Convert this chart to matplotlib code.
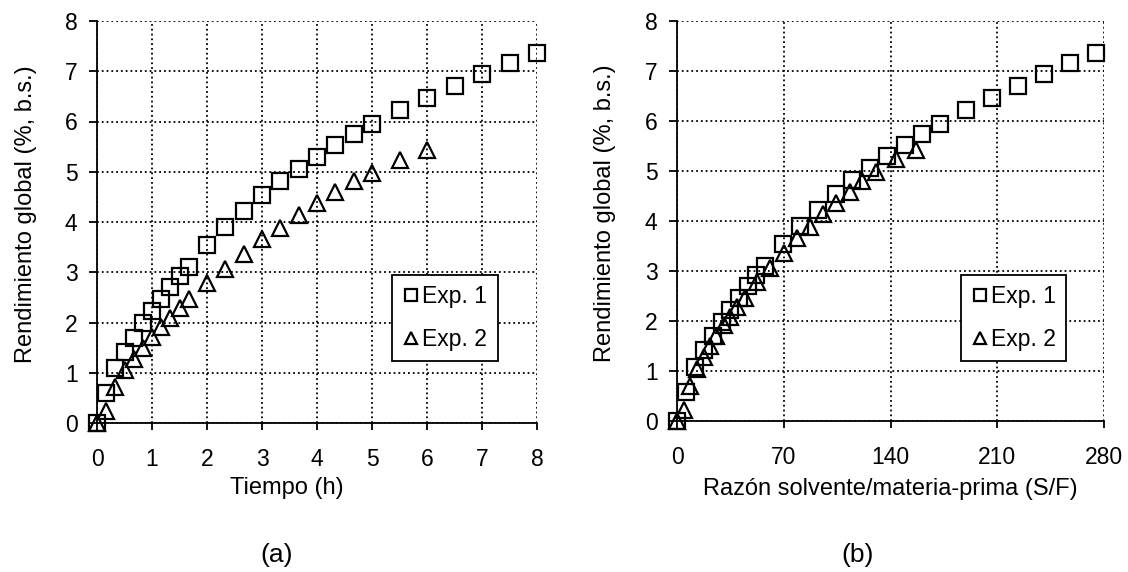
import matplotlib
matplotlib.use("Agg")
import matplotlib.pyplot as plt

plt.rcParams['font.family'] = ['Liberation Sans', 'DejaVu Sans']

# ---- data ----
t1 = [0, 0.17, 0.33, 0.5, 0.67, 0.83, 1.0, 1.17, 1.33, 1.5, 1.67, 2.0, 2.33, 2.67,
      3.0, 3.33, 3.67, 4.0, 4.33, 4.67, 5.0, 5.5, 6.0, 6.5, 7.0, 7.5, 8.0]
y1 = [0, 0.59, 1.09, 1.42, 1.70, 1.99, 2.22, 2.47, 2.70, 2.92, 3.11, 3.54, 3.91, 4.22,
      4.54, 4.82, 5.06, 5.30, 5.53, 5.75, 5.95, 6.22, 6.47, 6.71, 6.94, 7.16, 7.36]
sf1 = [0, 5.7, 11.8, 17.7, 23.6, 29.5, 35.0, 40.7, 46.6, 52.0, 58.0, 69.5, 80.9, 92.2,
       104.0, 115.0, 126.3, 137.7, 149.3, 160.9, 172.2, 189.3, 206.3, 223.4, 240.4, 257.5, 275.0]

t2 = [0, 0.17, 0.33, 0.5, 0.67, 0.83, 1.0, 1.17, 1.33, 1.5, 1.67, 2.0, 2.33, 2.67,
      3.0, 3.33, 3.67, 4.0, 4.33, 4.67, 5.0, 5.5, 6.0]
y2 = [0, 0.23, 0.71, 1.05, 1.28, 1.50, 1.71, 1.92, 2.09, 2.29, 2.47, 2.78, 3.06, 3.36,
      3.66, 3.89, 4.14, 4.37, 4.59, 4.81, 4.98, 5.24, 5.43]
sf2 = [0, 4.4, 8.7, 13.1, 17.5, 21.9, 25.8, 30.6, 35.0, 39.3, 44.4, 52.5, 61.2, 70.0,
       78.7, 87.4, 95.7, 104.0, 113.2, 121.5, 130.3, 143.4, 156.6]

labels = ["Exp. 1", "Exp. 2"]
ylabel = "Rendimiento global (%, b.s.)"
xlabel_a = "Tiempo (h)"
xlabel_b = "Razón solvente/materia-prima (S/F)"
xticks_a = [0, 1, 2, 3, 4, 5, 6, 7, 8]
xticks_b = [0, 70, 140, 210, 280]
yticks = [0, 1, 2, 3, 4, 5, 6, 7, 8]

FS_TICK = 16.5
FS_LAB = 17
FS_LEG = 16.5

fig = plt.figure(figsize=(11.28, 5.72), dpi=100)
ax1 = fig.add_axes([97/1128, 1-423/572, 440/1128, 402/572])
ax2 = fig.add_axes([677/1128, 1-421/572, 427/1128, 400/572])

mk = dict(linestyle='none', markerfacecolor='none', markeredgecolor='black',
          markersize=11, markeredgewidth=1.6, clip_on=False, zorder=5)


def style(ax, xt, xmax):
    ax.set_xlim(0, xmax)
    ax.set_ylim(0, 8)
    ax.set_xticks(xt)
    ax.set_yticks(yticks)
    for s in ['top', 'right']:
        ax.spines[s].set_visible(False)
    for s in ['left', 'bottom']:
        ax.spines[s].set_linewidth(1.3)
    ax.grid(True, linestyle=':', color='black', linewidth=1.3)
    ax.set_axisbelow(True)
    ax.tick_params(axis='x', direction='out', length=5, width=1.3, pad=13, labelsize=FS_TICK)
    ax.tick_params(axis='y', direction='out', length=6, width=1.3, pad=8, labelsize=FS_TICK)


for ax, xa, xb, xt, xmax, xl in [(ax1, t1, t2, xticks_a, 8, xlabel_a),
                                 (ax2, sf1, sf2, xticks_b, 280, xlabel_b)]:
    style(ax, xt, xmax)
    ax.plot(xa, y1, marker='s', label=labels[0], **mk)
    ax.plot(xb, y2, marker='^', label=labels[1], **mk)
    ax.set_ylabel(ylabel, fontsize=FS_LAB)
    ax.set_xlabel(xl, fontsize=FS_LAB)

ax1.yaxis.set_label_coords(-0.136, 0.52)
ax2.yaxis.set_label_coords(-0.143, 0.52)
ax1.xaxis.set_label_coords(0.432, -0.134)
ax2.xaxis.set_label_coords(0.5, -0.1425)

for ax, bb in [(ax1, (0.673, 0.149, 0.236, 0.224)), (ax2, (0.667, 0.145, 0.244, 0.225))]:
    leg = ax.legend(loc='center', bbox_to_anchor=bb, fontsize=FS_LEG, frameon=True,
                    fancybox=False, edgecolor='black', framealpha=1,
                    handlelength=0.7, handletextpad=0.15, markerscale=0.75,
                    borderpad=0.45, labelspacing=0.85, borderaxespad=0)
    leg.get_frame().set_linewidth(1.3)
    leg.set_zorder(10)

fig.text(277/1128, 1-555/572, "(a)", fontsize=19, ha='center', va='center')
fig.text(858/1128, 1-555/572, "(b)", fontsize=19, ha='center', va='center')

fig.savefig("out.png", dpi=100, facecolor='white')
